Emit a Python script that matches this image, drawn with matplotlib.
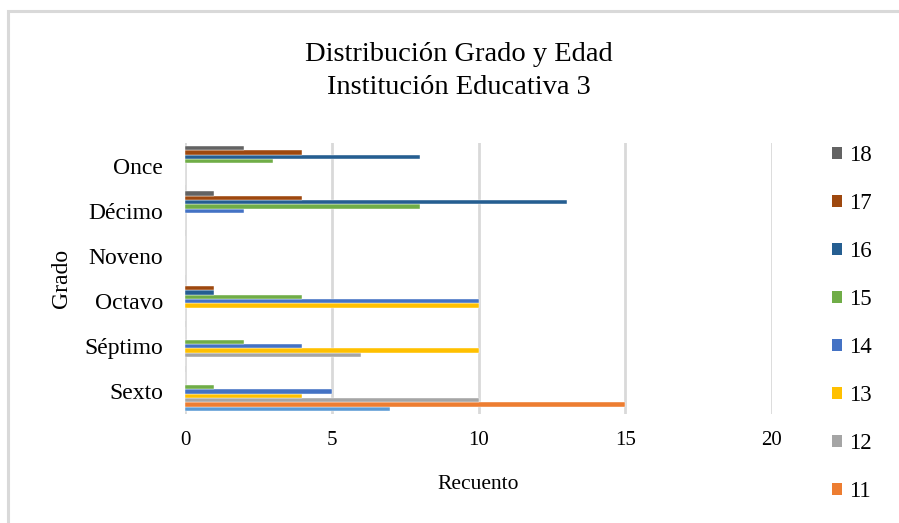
import matplotlib
matplotlib.use("Agg")
import matplotlib.pyplot as plt
from matplotlib.patches import Patch, Rectangle
import numpy as np

plt.rcParams['font.family'] = ['Liberation Serif', 'DejaVu Serif']

grados = ["Sexto", "Séptimo", "Octavo", "Noveno", "Décimo", "Once"]
edades = ["10", "11", "12", "13", "14", "15", "16", "17", "18"]

# Counts per age (rows) for each grade (columns, same order as `grados`)
edad_10 = [7, 0, 0, 0, 0, 0]
edad_11 = [15, 0, 0, 0, 0, 0]
edad_12 = [10, 6, 0, 0, 0, 0]
edad_13 = [4, 10, 10, 0, 0, 0]
edad_14 = [5, 4, 10, 0, 2, 0]
edad_15 = [1, 2, 4, 0, 8, 3]
edad_16 = [0, 0, 1, 0, 13, 8]
edad_17 = [0, 0, 1, 0, 4, 4]
edad_18 = [0, 0, 0, 0, 1, 2]
series = [edad_10, edad_11, edad_12, edad_13, edad_14,
          edad_15, edad_16, edad_17, edad_18]

colores = ["#5B9BD5", "#ED7D31", "#A5A5A5", "#FFC000", "#4472C4",
           "#70AD47", "#255E91", "#9E480E", "#636363"]

fig = plt.figure(figsize=(8.99, 5.23), dpi=100)

# light outer chart-area border
fig.patches.append(Rectangle((7.5 / 899, -0.1), 1.2, 1 - 11 / 523 + 0.1,
                             transform=fig.transFigure, fill=False,
                             edgecolor="#D9D9D9", linewidth=2.2))

ax = fig.add_axes([185 / 899, 1 - 414 / 523, 587 / 899, 271 / 523])

y = np.arange(len(grados))
h = 0.096
n = len(series)
for i, (vals, c) in enumerate(zip(series, colores)):
    ax.barh(y + (i - (n - 1) / 2) * h, vals, height=h, color=c,
            edgecolor="white", linewidth=0.3, zorder=3)

ax.set_xlim(0, 20)
ax.set_ylim(-0.5, len(grados) - 0.5)
ax.set_xticks([0, 5, 10, 15, 20])
ax.set_yticks(y)
ax.set_yticklabels(grados, fontsize=17)
ax.tick_params(axis="x", labelsize=15, length=0, pad=12)
ax.tick_params(axis="y", length=0, pad=16)
ax.grid(axis="x", color="#D9D9D9", linewidth=2, zorder=0)
for s in ax.spines.values():
    s.set_visible(False)

ax.set_xlabel("Recuento", fontsize=15.5, labelpad=18)
fig.text(61 / 899, 1 - 278 / 523, "Grado", rotation=90, fontsize=17,
         ha="center", va="center")

fig.text(459 / 899, 1 - 71 / 523, "Distribución Grado y Edad\nInstitución Educativa 3",
         ha="center", va="center", fontsize=20.5, linespacing=1.45)

handles = [Patch(facecolor=colores[i], edgecolor="none", label=edades[i])
           for i in range(n - 1, 0, -1)]
fig.legend(handles=handles, loc="upper left",
           bbox_to_anchor=(832 / 899, 1 - 145 / 523),
           frameon=False, fontsize=16.5, labelspacing=1.18,
           handlelength=0.45, handleheight=0.45, handletextpad=0.3,
           borderpad=0, borderaxespad=0)

fig.savefig("out.png", dpi=100, facecolor="white")
